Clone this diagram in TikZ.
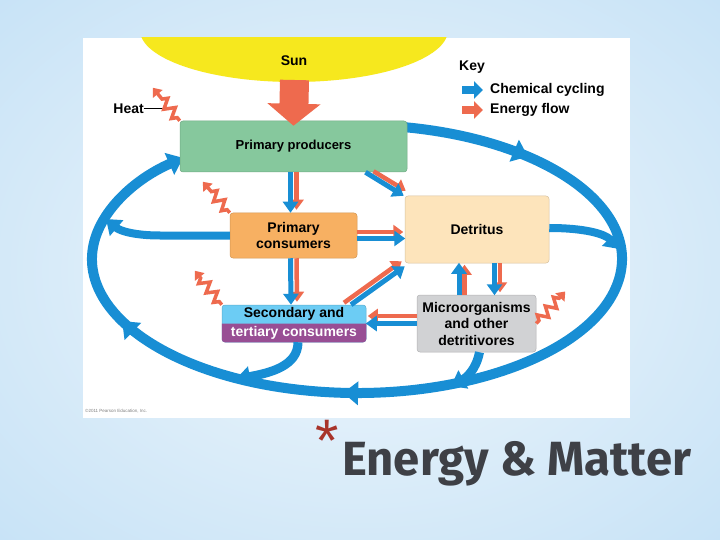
\documentclass[tikz,border=0pt]{standalone}
\usepackage{fontspec}
\usepackage{graphicx}
\setmainfont{Liberation Sans}
\newfontfamily\titlefont{Fira Sans}
\usetikzlibrary{arrows.meta,decorations.pathmorphing,decorations.markings,calc}
\pgfdeclarelayer{bg}
\pgfsetlayers{bg,main}
\definecolor{cblue}{RGB}{24,142,212}
\definecolor{corange}{RGB}{238,106,78}
\definecolor{sunyel}{RGB}{246,232,30}
\definecolor{ppgreen}{RGB}{134,200,157}
\definecolor{pcorange}{RGB}{247,176,98}
\definecolor{detpeach}{RGB}{253,228,187}
\definecolor{secblue}{RGB}{108,204,244}
\definecolor{secpurple}{RGB}{152,78,148}
\definecolor{migray}{RGB}{209,210,212}
\definecolor{bgblue}{RGB}{196,225,246}
\definecolor{bglight}{RGB}{240,247,252}
\definecolor{titlegray}{RGB}{62,64,70}
\definecolor{astred}{RGB}{168,52,42}
\tikzset{
  box/.style={fill=#1, draw=#1!85!black, line width=0.5pt, rounded corners=3pt,
    font=\bfseries\fontsize{14}{16}\selectfont, align=center, inner sep=0pt},
  lbl/.style={font=\bfseries\fontsize{14}{16}\selectfont, inner sep=0pt},
  barr/.style={draw=cblue, line width=5pt, -{Triangle[width=15pt,length=11pt]}},
  oarr/.style={draw=corange, line width=4.5pt, -{Triangle[width=14pt,length=10pt]}},
  bigb/.style={draw=cblue, line width=10pt, -{Triangle[width=23pt,length=15pt]}},
  heat/.style={draw=corange, line width=3.5pt, decorate,
    decoration={zigzag, segment length=12pt, amplitude=5pt, pre length=4pt, post length=9pt},
    -{Triangle[width=12pt,length=8pt]}},
}
\begin{document}
\begin{tikzpicture}[x=1pt,y=-1pt]
\useasboundingbox (0,0) rectangle (720,540);
\begin{pgfonlayer}{bg}
  \shade[inner color=bglight, outer color=bgblue] (-200,-150) rectangle (920,690);
  \fill[white] (83,38) rectangle (630,418);
  \begin{scope}
    \clip (83,38) rectangle (630,418);
    \fill[sunyel] (294,30) ellipse [x radius=154, y radius=52];
  \end{scope}
  % big chemical cycle
  \draw[bigb, postaction={decorate}, decoration={markings,
      mark=at position 0.125 with {\arrow{Triangle[width=23pt,length=15pt]}},
      mark=at position 0.577 with {\arrow{Triangle[width=23pt,length=15pt]}},
      mark=at position 0.799 with {\arrow{Triangle[width=23pt,length=15pt]}}}]
    (357,259) ++(-81:265 and 134) arc[start angle=-81, end angle=229, x radius=265, y radius=134];
\end{pgfonlayer}

% nodes
\node[lbl] (sun) at (294,61) {Sun};
\coordinate (sunbot) at (294.5,80);
\node[box=ppgreen, minimum width=227pt, minimum height=51pt, font=\bfseries\fontsize{13}{15}\selectfont] (pp) at (293.5,146.5) {Primary producers};
\node[box=pcorange, minimum width=127pt, minimum height=45pt] (pc) at (293.5,235.5) {Primary\\consumers};
\node[box=detpeach, minimum width=144pt, minimum height=67pt] (det) at (477,229.5) {Detritus};
\node[box=secblue, minimum width=144pt, minimum height=37pt] (sec) at (294,323.5) {};
\fill[secpurple] (sec.west) -- (sec.east) [rounded corners=3pt] -- (sec.south east) -- (sec.south west) [sharp corners] -- (sec.west) -- cycle;
\node[lbl] (sectop) at (294,314) {Secondary and};
\node[lbl, text=white] (secbot) at (294,332.5) {tertiary consumers};
\node[box=migray, minimum width=119pt, minimum height=57pt, font=\bfseries\fontsize{14}{16.5}\selectfont] (mi) at (476.5,323.5) {Microorganisms\\and other\\detritivores};

% key
\node[lbl, anchor=west] (key) at (459,67) {Key};
\coordinate (kb) at (462,90);
\coordinate (ko) at (462,110);
\draw[cblue, line width=8pt, -{Triangle[width=17pt,length=9pt]}] (kb) -- ++(21,0);
\draw[corange, line width=8pt, -{Triangle[width=17pt,length=9pt]}] (ko) -- ++(21,0);
\node[lbl, anchor=west] (kct) at (490,90) {Chemical cycling};
\node[lbl, anchor=west] (ket) at (490,110) {Energy flow};

% heat
\node[lbl, anchor=east] (heat) at (144,108.5) {Heat};
\draw[line width=0.6pt] (heat.east) -- ++(20,0);
\draw[heat] (pp.north west) -- ++(-27,-33);
\draw[heat] (pc.north west) -- ++(-27,-31);
\draw[heat] (sec.north west) -- ++(-27,-34);
\draw[heat] (mi.east) -- ++(29,-32);

% sun arrow
\draw[corange, line width=29pt, -{Triangle[width=52pt,length=22pt]}] (sunbot) -- ([yshift=-5pt]pp.north);

% pair arrows
\draw[oarr] ([xshift=3pt]pp.south) -- ([xshift=3pt,yshift=3pt]pc.north);
\draw[barr] ([xshift=-3pt]pp.south) -- ([xshift=-3pt]pc.north);
\draw[oarr] ([xshift=3pt]pc.south) -- ([xshift=3pt,yshift=3pt]sec.north);
\draw[barr] ([xshift=-3pt]pc.south) -- ([xshift=-3pt]sec.north);
\draw[oarr] ([xshift=80pt,yshift=1pt]pp.south) -- ([xshift=1pt,yshift=5pt]det.north west);
\draw[barr] ([xshift=72pt]pp.south) -- ([xshift=-1pt]det.north west);
\draw[oarr] ([yshift=3.5pt]pc.east) -- ++(46,0);
\draw[barr] ([yshift=-3pt]pc.east) -- ++(48,0);
\draw[oarr] ([xshift=50pt,yshift=2pt]sec.north) -- ([xshift=-3pt,yshift=2pt]det.south west);
\draw[barr] ([xshift=57pt]sec.north) -- ([yshift=-3pt]det.south west);
\draw[oarr] ([xshift=-12pt]mi.north) -- ++(0,-30);
\draw[barr] ([xshift=-17.5pt]mi.north) -- ++(0,-32);
\draw[oarr] ([xshift=23pt]det.south) -- ++(0,29);
\draw[barr] ([xshift=17.5pt]det.south) -- ++(0,32);
\draw[oarr] ([yshift=7.5pt]mi.west) -- ++(-49,0);
\draw[barr] (mi.west) -- ++(-51,0);

% single blue arrows to the cycle
\draw[draw=cblue, line width=8pt, -{Triangle[width=20pt,length=14pt]}] (pc.west) -- (160,235.5) .. controls (135,235.5) and (120,231) .. (106,219);
\draw[draw=cblue, line width=8pt, -{Triangle[width=20pt,length=14pt]}] ([yshift=1.5pt]det.east) .. controls (585,228) and (605,234) .. (619,249);
\draw[draw=cblue, line width=9pt, -{Triangle[width=20pt,length=14pt]}] ([xshift=4pt]sec.south) .. controls (298,366) and (270,373) .. (236,379);
\draw[draw=cblue, line width=9pt, -{Triangle[width=20pt,length=14pt]}] ([xshift=3pt]mi.south) .. controls (476,370) and (466,378) .. (451,386);

% footer texts
\node[anchor=west, font=\fontsize{4.5}{5}\selectfont, text=gray, inner sep=0pt] (copy) at (85,411) {©2011 Pearson Education, Inc.};
\node[anchor=base, text=astred, font=\fontsize{60}{60}\selectfont, inner sep=0pt] (ast) at (327,461) {*};
\node[anchor=base west, text=titlegray, font=\titlefont\bfseries\fontsize{48}{48}\selectfont, inner sep=0pt] (title) at (342,475) {\scalebox{0.985}[1]{Energy \& Matter}};
\end{tikzpicture}
\end{document}
